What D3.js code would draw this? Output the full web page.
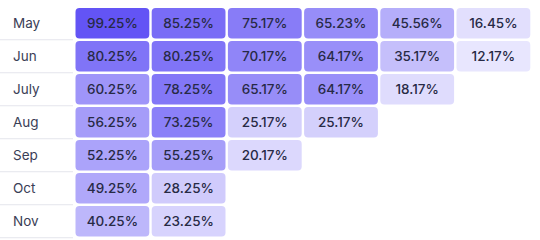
<!DOCTYPE html>
<html>
<head>
<meta charset="utf-8">
<script src="https://cdn.jsdelivr.net/npm/d3@7"></script>
<style>
  body { margin: 0; background: #fff; }
  text { font-family: Inter, "Noto Sans", sans-serif; }
</style>
</head>
<body>
<div id="chart"></div>
<script>
// cohort rows and the retention values for each (shorter rows = newer cohorts)
const months = ["May", "Jun", "July", "Aug", "Sep", "Oct", "Nov"]
const periods = [0, 1, 2, 3, 4, 5]
const may = [99.25, 85.25, 75.17, 65.23, 45.56, 16.45]
const jun = [80.25, 80.25, 70.17, 64.17, 35.17, 12.17]
const july = [60.25, 78.25, 65.17, 64.17, 18.17]
const aug = [56.25, 73.25, 25.17, 25.17]
const sep = [52.25, 55.25, 20.17]
const oct = [49.25, 28.25]
const nov = [40.25, 23.25]

const rows = [may, jun, july, aug, sep, oct, nov]

const width = 540,
    height = 240

const svg = d3.select("#chart")
    .append("svg")
    .attr("width", width)
    .attr("height", height)

const x = d3.scaleBand()
    .domain(periods)
    .range([75.5, 530.3])
    .paddingInner(0.0315)

const y = d3.scaleBand()
    .domain(months)
    .range([8, 236.5])
    .paddingInner(0.075)

// white -> purple by value
const color = d3.scaleLinear()
    .domain([0, 100])
    .range(["#fbfaff", "#6253f5"])
    .interpolate(d3.interpolateRgb)

const cells = []
rows.forEach((vals, r) => {
    vals.forEach((v, c) => cells.push({ month: months[r], period: c, value: v }))
})

const gap = y.step() - y.bandwidth()

// light separators under the row labels
svg.selectAll("line.sep")
    .data(months)
    .join("line")
    .attr("class", "sep")
    .attr("x1", 0)
    .attr("x2", 73)
    .attr("y1", d => y(d) + y.bandwidth() + gap / 2)
    .attr("y2", d => y(d) + y.bandwidth() + gap / 2)
    .attr("stroke", "#e4e5ec")
    .attr("stroke-width", 1)

svg.selectAll("text.label")
    .data(months)
    .join("text")
    .attr("class", "label")
    .attr("x", 13)
    .attr("y", d => y(d) + y.bandwidth() / 2)
    .attr("dy", "0.36em")
    .attr("font-size", 13.5)
    .attr("fill", "#3a3e56")
    .text(d => d)

svg.selectAll("rect.cell")
    .data(cells)
    .join("rect")
    .attr("class", "cell")
    .attr("x", d => x(d.period))
    .attr("y", d => y(d.month))
    .attr("width", x.bandwidth())
    .attr("height", y.bandwidth())
    .attr("rx", 4)
    .attr("fill", d => color(d.value))

svg.selectAll("text.value")
    .data(cells)
    .join("text")
    .attr("class", "value")
    .attr("x", d => x(d.period) + x.bandwidth() / 2)
    .attr("y", d => y(d.month) + y.bandwidth() / 2)
    .attr("dy", "0.36em")
    .attr("text-anchor", "middle")
    .attr("font-size", 13.5)
    .attr("font-weight", 500)
    .attr("fill", "#272a45")
    .text(d => d.value.toFixed(2) + "%")
</script>
</body>
</html>
